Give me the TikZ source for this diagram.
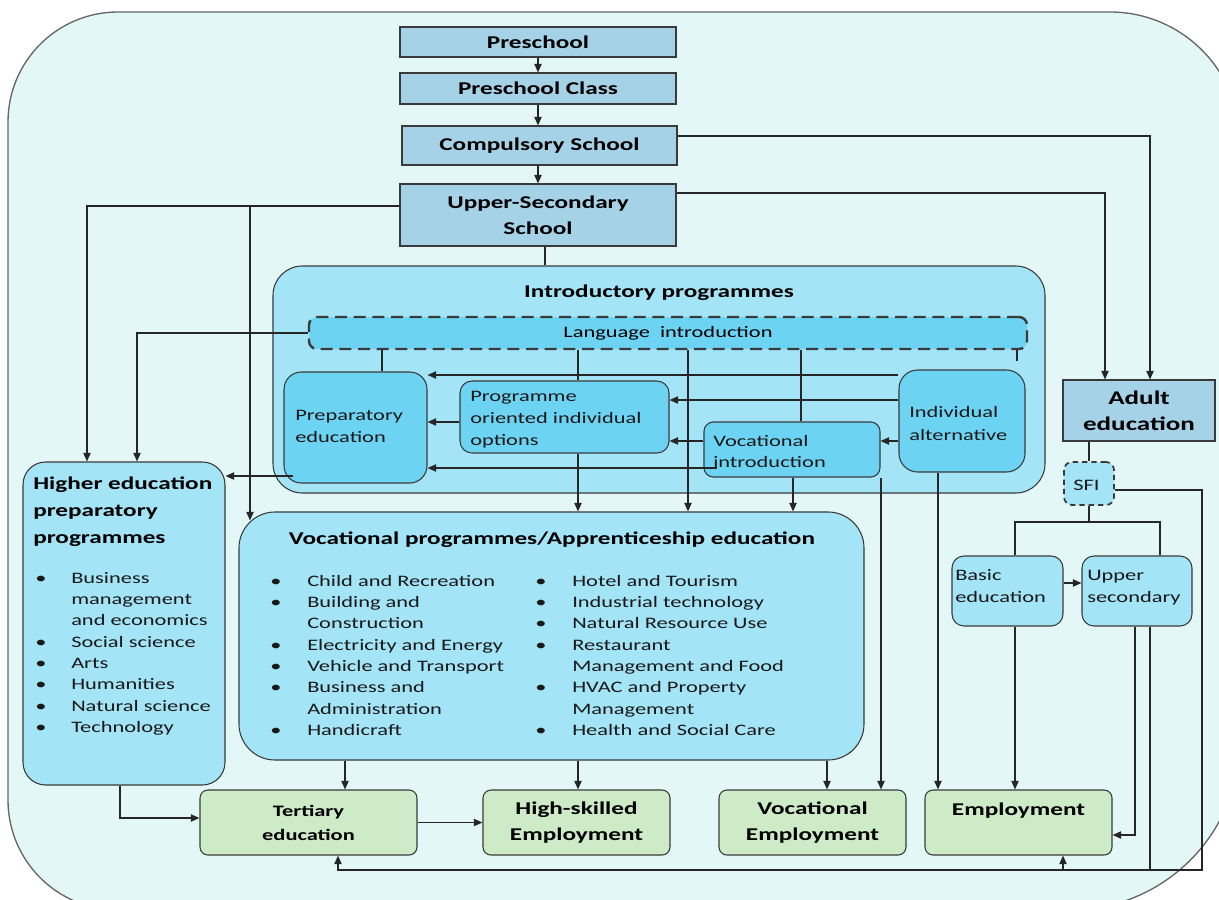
\documentclass[tikz,border=0pt]{standalone}
\usepackage{fontspec}
\setmainfont{Carlito}[FakeStretch=1.4]
\usetikzlibrary{arrows.meta,calc}
\definecolor{outerfill}{HTML}{E3F7F6}
\definecolor{topblue}{HTML}{A6D2E8}
\definecolor{introblue}{HTML}{A3E4F6}
\definecolor{deepblue}{HTML}{6DD3F3}
\definecolor{greenfill}{HTML}{CDEBC7}
\definecolor{edge}{HTML}{3A3A3A}
\newcommand{\mkbox}[7]{\node[#6, minimum width={(#4-#2)*0.75pt}, minimum height={(#5-#3)*0.75pt}] (#1) at ({(#2+#4)/2},{(#3+#5)/2}) {#7};}
\newcommand{\stack}[1]{\begin{tabular}[t]{@{}l@{}}#1\end{tabular}}
\begin{document}
\begin{tikzpicture}[x=0.75pt,y=-0.75pt,
  conn/.style={draw=black!85,line width=1pt},
  arr/.style={conn,-{Triangle[length=6.5pt,width=5.5pt]}},
  bx/.style={draw=edge,line width=0.8pt,inner sep=0pt,align=center,text=black},
  topbox/.style={bx,fill=topblue,font=\fontsize{13.5}{19.5}\selectfont\bfseries},
  midbox/.style={bx,fill=introblue},
  deepbox/.style={bx,fill=deepblue},
  greenbox/.style={bx,fill=greenfill,rounded corners=6pt,font=\fontsize{13.5}{19.5}\selectfont\bfseries},
  txt/.style={inner sep=0pt,anchor=base west,text=black!90,font=\fontsize{12}{16.5}\selectfont},
  boldtxt/.style={inner sep=0pt,text=black,font=\fontsize{13.5}{19.5}\selectfont\bfseries}
]
\useasboundingbox (0,0) rectangle (1219,899);
\clip (0,0) rectangle (1219,899);
\path[fill=outerfill,draw=black!60,line width=1pt]
  (8,122) arc (180:270:110) -- (1110,12) arc (270:360:130) -- (1240,740)
  arc (0:90:170) -- (118,910) arc (90:180:110) -- cycle;

% top boxes
\mkbox{pre}{400}{27}{676}{57}{topbox}{Preschool}
\mkbox{cls}{400}{73}{676}{104}{topbox}{Preschool Class}
\mkbox{comp}{402}{126}{677}{165}{topbox}{Compulsory School}
\mkbox{up}{400}{184}{676}{246}{topbox}{Upper-Secondary\\School}
\mkbox{adult}{1063}{380}{1215}{441}{topbox,font=\fontsize{14.5}{19.5}\selectfont\bfseries}{Adult\\education}

% introductory programmes
\mkbox{intro}{273}{266}{1045}{493}{midbox,rounded corners=22pt}{}
\mkbox{lang}{309}{317}{1027}{349}{deepbox,line width=1.8pt,dash pattern=on 9pt off 5pt,rounded corners=6pt,font=\fontsize{12}{15}\selectfont}{Language\ \ introduction}
\mkbox{prep}{284}{372}{427}{483}{deepbox,rounded corners=13pt}{}
\mkbox{prog}{460}{381}{669}{453}{deepbox,rounded corners=9pt}{}
\mkbox{vint}{704}{422}{880}{477}{deepbox,rounded corners=7pt}{}
\mkbox{indiv}{899}{370}{1025}{472}{deepbox,rounded corners=14pt}{}

% programmes
\mkbox{hep}{23}{462}{225}{785}{midbox,rounded corners=17pt}{}
\mkbox{voc}{239}{512}{864}{760}{midbox,rounded corners=27pt}{}

% adult branch
\mkbox{sfi}{1064}{462}{1114}{505}{midbox,line width=1.3pt,dash pattern=on 4pt off 3pt,rounded corners=6pt}{}
\mkbox{basic}{952}{556}{1063}{626}{midbox,rounded corners=9pt}{}
\mkbox{usec}{1082}{556}{1192}{626}{midbox,rounded corners=9pt}{}

% outcomes
\mkbox{tert}{200}{790}{417}{855}{greenbox,font=\fontsize{12}{18}\selectfont\bfseries}{Tertiary\\education}
\mkbox{hse}{483}{790}{670}{855}{greenbox}{High-skilled\\Employment}
\mkbox{vemp}{719}{790}{906}{855}{greenbox}{Vocational\\Employment}
\mkbox{emp}{925}{790}{1112}{855}{greenbox}{Employment\\\mbox{}}

% helper coordinates
\coordinate (kA) at (1150,136);
\coordinate (kB) at (1105,193);
\coordinate (kC) at (87,206);
\coordinate (kD) at (250,206);
\coordinate (kE) at (545,0);
\coordinate (kF) at (137,333);
\coordinate (v382) at (382,0);
\coordinate (v578) at (578,0);
\coordinate (v688) at (688,0);
\coordinate (v801) at (801,0);
\coordinate (v1017) at (1017,0);
\coordinate (h375) at (0,375);
\coordinate (h400) at (0,400);
\coordinate (h441) at (0,441);
\coordinate (h422) at (0,422);
\coordinate (vintIn) at (717,468);
\coordinate (prepIn) at (293,476);
\coordinate (v793) at (793,0);
\coordinate (v880) at (881,0);
\coordinate (v938) at (938,0);
\coordinate (sfiJ) at (1091,522);
\coordinate (v1015) at (1015,0);
\coordinate (v1160) at (1160,0);
\coordinate (h583) at (0,583);
\coordinate (v1135) at (1135,0);
\coordinate (v1150) at (1150,0);
\coordinate (h835) at (0,835);
\coordinate (h870) at (0,870);
\coordinate (kG) at (1202,490);
\coordinate (kH) at (1202,870);
\coordinate (v338) at (338,0);
\coordinate (v1063) at (1063,0);
\coordinate (kI) at (120,818);
\coordinate (v345) at (345,0);
\coordinate (v827) at (827,0);

% connectors
\draw[arr] (pre.south) -- (cls.north);
\draw[arr] (cls.south) -- (cls.south |- comp.north);
\draw[arr] (cls.south |- comp.south) -- (cls.south |- up.north);
\draw[arr] (comp.east |- kA) -| (adult.north -| kA);
\draw[arr] (up.east |- kB) -| (adult.north -| kB);
\draw[arr] (up.west |- kC) -| (hep.north -| kC);
\draw[arr] (kD) -- ($(kD |- voc.north)+(0,9)$);
\draw[conn] (up.south -| kE) -- (intro.north -| kE);
\draw[arr] (lang.west) -| (hep.north -| kF);
\draw[conn] (lang.south -| v382) -- (prep.north -| v382);
\draw[conn] (lang.south -| v578) -- (prog.north -| v578);
\draw[arr] (lang.south -| v688) -- (voc.north -| v688);
\draw[conn] (lang.south -| v801) -- (vint.north -| v801);
\draw[conn] (lang.south -| v1017) -- ($(indiv.north -| v1017)+(0,-8)$);
\draw[arr] (indiv.west |- h375) -- (prep.east |- h375);
\draw[arr] (indiv.west |- h400) -- (prog.east |- h400);
\draw[arr] (indiv.west |- h441) -- (vint.east |- h441);
\draw[arr] (vint.west |- h441) -- (prog.east |- h441);
\draw[arr] (prog.west |- h422) -- (prep.east |- h422);
\draw[arr] (vintIn) -- (prep.east |- vintIn);
\draw[arr] (prepIn) -- (hep.east |- prepIn);
\draw[arr] (prog.south -| v578) -- (voc.north -| v578);
\draw[arr] (vint.south -| v793) -- (voc.north -| v793);
\draw[arr] (vint.south -| v880) -- (vemp.north -| v880);
\draw[arr] (indiv.south -| v938) -- (emp.north -| v938);
\draw[conn] (adult.south -| sfi.north) -- (sfi.north);
\draw[conn] (sfi.south) -- (sfiJ -| sfi.south);
\draw[conn] (basic.north -| v1015) -- (sfiJ -| v1015) -- (sfiJ -| v1160) -- (usec.north -| v1160);
\draw[arr] (basic.east |- h583) -- (usec.west |- h583);
\draw[arr] (basic.south -| v1015) -- (emp.north -| v1015);
\draw[arr] (usec.south -| v1135) |- (emp.east |- h835);
\draw[conn] (usec.south -| v1150) -- (h870 -| v1150);
\draw[arr] (sfi.east |- kG) -- (kG) -- (kH) -| (tert.south -| v338);
\draw[arr] (h870 -| v1063) -- (emp.south -| v1063);
\draw[arr] (hep.south -| kI) |- (tert.west |- kI);
\draw[arr] (voc.south -| v345) -- (tert.north -| v345);
\draw[arr] (voc.south -| v578) -- (hse.north -| v578);
\draw[arr] (voc.south -| v827) -- (vemp.north -| v827);
\draw[arr] (tert.east) -- (hse.west);

% texts
\node[boldtxt] (introtitle) at (659,293) {Introductory programmes};
\node[txt] (preptxt) at (295,420) {\stack{Preparatory\\education}};
\node[txt] (progtxt) at (470,401) {\stack{Programme\\oriented individual\\options}};
\node[txt,font=\fontsize{12}{15.75}\selectfont] (vinttxt) at (713,446) {\stack{Vocational\\introduction}};
\node[txt,font=\fontsize{12}{17.25}\selectfont] (indivtxt) at (909,417) {\stack{Individual\\alternative}};
\node[txt] (basictxt) at (955,580) {\stack{Basic\\education}};
\node[txt] (usectxt) at (1087,580) {\stack{Upper\\secondary}};
\node[txt] (sfitxt) at (1073,490) {SFI};
\node[txt,font=\fontsize{13.5}{20.6}\selectfont\bfseries,text=black] (heptitle) at (33,489) {\stack{Higher education\\preparatory\\programmes}};
\node[txt,font=\fontsize{12}{16}\selectfont] (heplist) at (35,583) {\begin{tabular}[t]{@{}p{27pt}@{}l@{}}
•&Business\\&management\\&and economics\\•&Social science\\•&Arts\\•&Humanities\\•&Natural science\\•&Technology\end{tabular}};
\node[boldtxt] (voctitle) at (552,540) {Vocational programmes/Apprenticeship education};
\node[txt,font=\fontsize{12}{16}\selectfont] (vocL) at (270,586) {\begin{tabular}[t]{@{}p{27.75pt}@{}l@{}}
•&Child and Recreation\\•&Building and\\&Construction\\•&Electricity and Energy\\•&Vehicle and Transport\\•&Business and\\&Administration\\•&Handicraft\end{tabular}};
\node[txt,font=\fontsize{12}{16}\selectfont] (vocR) at (535,586) {\begin{tabular}[t]{@{}p{27.75pt}@{}l@{}}
•&Hotel and Tourism\\•&Industrial technology\\•&Natural Resource Use\\•&Restaurant\\&Management and Food\\•&HVAC and Property\\&Management\\•&Health and Social Care\end{tabular}};
\end{tikzpicture}
\end{document}
